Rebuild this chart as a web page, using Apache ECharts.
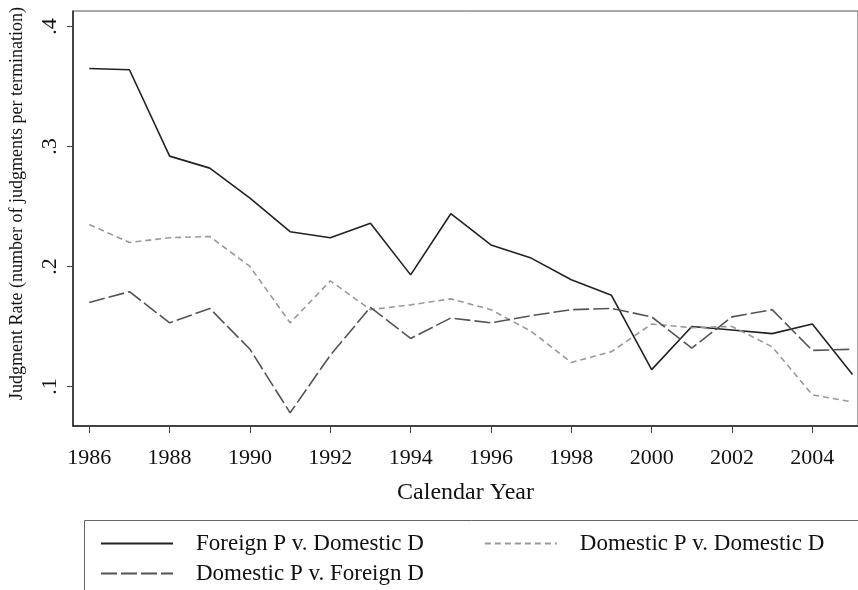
<!DOCTYPE html>
<html>
<head>
<meta charset="utf-8">
<script src="https://cdn.jsdelivr.net/npm/echarts@6/dist/echarts.min.js"></script>
<style>
  html, body { margin: 0; padding: 0; background: #fff; }
  #chart { width: 858px; height: 590px; }
</style>
</head>
<body>
<div id="chart"></div>
<script>
// years on the x axis
var years = [1986, 1987, 1988, 1989, 1990, 1991, 1992, 1993, 1994, 1995,
             1996, 1997, 1998, 1999, 2000, 2001, 2002, 2003, 2004, 2005];

// judgment rates
var foreignPDomesticD = [0.365, 0.364, 0.292, 0.282, 0.257, 0.229, 0.224, 0.236, 0.193, 0.244,
                         0.218, 0.207, 0.189, 0.176, 0.114, 0.150, 0.147, 0.144, 0.152, 0.110];
var domesticPDomesticD = [0.235, 0.220, 0.224, 0.225, 0.200, 0.153, 0.188, 0.164, 0.168, 0.173,
                          0.164, 0.146, 0.120, 0.129, 0.152, 0.149, 0.150, 0.133, 0.093, 0.087];
var domesticPForeignD = [0.170, 0.179, 0.153, 0.165, 0.131, 0.078, 0.126, 0.166, 0.140, 0.157,
                         0.153, 0.159, 0.164, 0.165, 0.158, 0.132, 0.158, 0.164, 0.130, 0.131];

var xTicks = [1986, 1988, 1990, 1992, 1994, 1996, 1998, 2000, 2002, 2004];
var yTicks = [0.1, 0.2, 0.3, 0.4];

var serif = 'Liberation Serif';

function pairs(vals) {
  return years.map(function (y, i) { return [y, vals[i]]; });
}

// shared look of the two legend rows
function legendRow(top, names) {
  return {
    left: 95,
    top: top,
    itemWidth: 72,
    itemHeight: 14,
    itemGap: 60,
    itemStyle: { opacity: 0 },
    textStyle: { fontFamily: serif, fontSize: 23, color: '#111', padding: [0, 0, 0, 18] },
    data: names
  };
}

var chart = echarts.init(document.getElementById('chart'));
chart.setOption({
  animation: false,
  backgroundColor: '#fff',
  textStyle: { fontFamily: serif, color: '#111' },
  grid: {
    left: 72, right: 0, top: 11, bottom: 164,
    show: true, borderColor: '#555', borderWidth: 1
  },
  xAxis: {
    type: 'value',
    min: 1985.595,
    max: 2005.137,
    name: 'Calendar Year',
    nameLocation: 'middle',
    nameGap: 55,
    nameTextStyle: { fontFamily: serif, fontSize: 24, color: '#111' },
    axisLine: { lineStyle: { color: '#222', width: 1.5 } },
    axisTick: { customValues: xTicks, length: 7, lineStyle: { color: '#444' } },
    axisLabel: {
      customValues: xTicks,
      fontFamily: serif, fontSize: 22, color: '#111', margin: 21,
      formatter: function (v) { return String(v); }
    },
    splitLine: { show: false }
  },
  yAxis: {
    type: 'value',
    min: 0.067,
    max: 0.413,
    name: 'Judgment Rate (number of judgments per termination)',
    nameLocation: 'middle',
    nameRotate: 90,
    nameGap: 47,
    nameTextStyle: { fontFamily: serif, fontSize: 18, color: '#111', padding: [0, 0, 0, 30] },
    axisLine: { show: true, lineStyle: { color: '#222', width: 1.5 } },
    axisTick: { show: true, customValues: yTicks, length: 6, lineStyle: { color: '#444' } },
    axisLabel: {
      customValues: yTicks,
      rotate: 90,
      fontFamily: serif, fontSize: 22, color: '#111', margin: 12,
      formatter: function (v) { return String(Math.round(v * 10) / 10).replace(/^0/, ''); }
    },
    splitLine: { show: false }
  },
  legend: [
    legendRow(527, ['Foreign P v. Domestic D', 'Domestic P v. Domestic D']),
    legendRow(557, ['Domestic P v. Foreign D'])
  ],
  graphic: [
    {
      type: 'rect',
      left: 82, top: 518,
      shape: { width: 800, height: 100 },
      style: { fill: 'none', stroke: '#666', lineWidth: 1 },
      silent: true
    }
  ],
  series: [
    {
      name: 'Foreign P v. Domestic D',
      type: 'line',
      symbol: 'none',
      data: pairs(foreignPDomesticD),
      lineStyle: { color: '#222', width: 1.6, type: 'solid' },
      itemStyle: { color: '#222' }
    },
    {
      name: 'Domestic P v. Domestic D',
      type: 'line',
      symbol: 'none',
      data: pairs(domesticPDomesticD),
      lineStyle: { color: '#999', width: 1.6, type: [6, 4] },
      itemStyle: { color: '#999' }
    },
    {
      name: 'Domestic P v. Foreign D',
      type: 'line',
      symbol: 'none',
      data: pairs(domesticPForeignD),
      lineStyle: { color: '#555', width: 1.6, type: [16, 4] },
      itemStyle: { color: '#555' }
    }
  ]
});
</script>
</body>
</html>
